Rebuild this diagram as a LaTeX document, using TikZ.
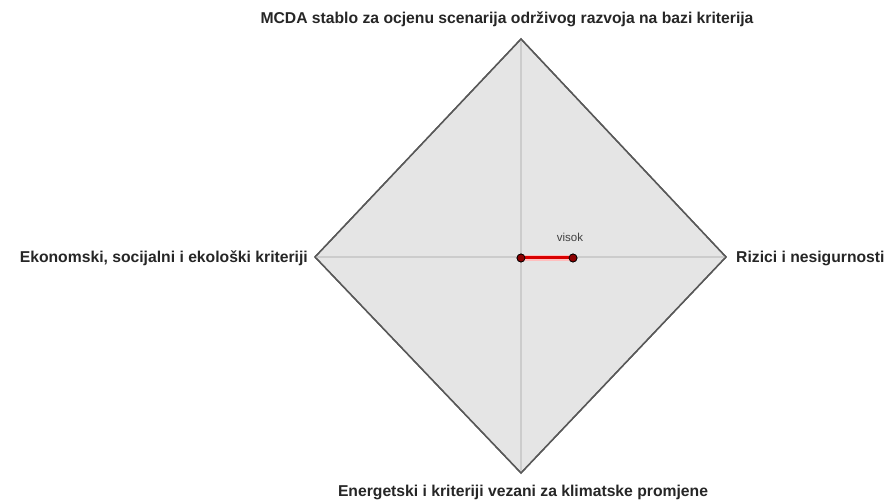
\documentclass[tikz,border=0pt]{standalone}
\usepackage{fontspec}
\setmainfont{Liberation Sans}
\begin{document}
\begin{tikzpicture}[x=1bp,y=-1bp,
  axislabel/.style={font=\fontsize{15.7bp}{18bp}\selectfont\bfseries, text=black!85, inner sep=0pt},
  rim/.style={draw=black!65, line width=1.4bp, fill=black!10, line join=miter},
  spoke/.style={draw=black!20, line width=1.2bp},
  valueline/.style={draw=red!85!black, line width=3bp},
  valuedot/.style={circle, fill=red!55!black, draw=black, line width=0.7bp, minimum size=8bp, inner sep=0pt}
]
\useasboundingbox[fill=white] (0,0) rectangle (890,504);

% diamond vertices
\coordinate (top) at (521,39);
\coordinate (bot) at (521,473);
\coordinate (lft) at (315,257);
\coordinate (rgt) at (726,257);

\path[rim] (top) -- (rgt) -- (bot) -- (lft) -- cycle;
\draw[spoke] (top) -- (bot);
\draw[spoke] (lft) -- (rgt);
\path[rim, fill=none] (top) -- (rgt) -- (bot) -- (lft) -- cycle;

% axis labels
\node[axislabel, anchor=south] (ltop) at (507,27) {MCDA stablo za ocjenu scenarija održivog razvoja na bazi kriterija};
\node[axislabel, anchor=east] (llft) at (308,258) {Ekonomski, socijalni i ekološki kriteriji};
\node[axislabel, anchor=west] (lrgt) at (736,258) {Rizici i nesigurnosti};
\node[axislabel, anchor=north] (lbot) at (523,485) {Energetski i kriteriji vezani za klimatske promjene};

% value polygon
\node[valuedot] (p0) at (521,258) {};
\node[valuedot] (p1) at (573,258) {};
\draw[draw=red!25, line width=6bp] (p0.center) -- (p1.center);
\draw[valueline] (p0) -- (p1);
\node[valuedot] at (p0) {};
\node[valuedot] at (p1) {};
\node[font=\fontsize{11.5bp}{13bp}\selectfont, text=black!75, inner sep=0pt] (vlab) at (570,237) {visok};
\end{tikzpicture}
\end{document}
